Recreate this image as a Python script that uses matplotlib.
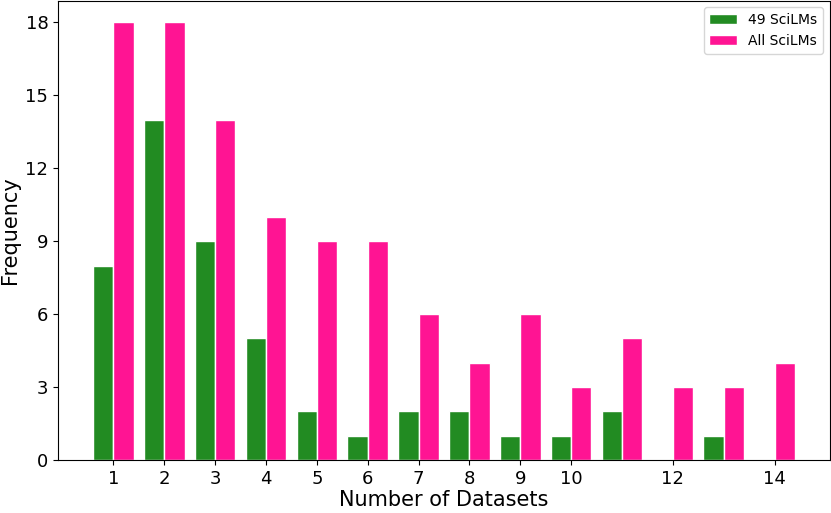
import matplotlib
matplotlib.use("Agg")
import matplotlib.pyplot as plt
import numpy as np

num_datasets = [1, 2, 3, 4, 5, 6, 7, 8, 9, 10, 11, 12, 13, 14]
sci49 = [8, 14, 9, 5, 2, 1, 2, 2, 1, 1, 2, 0, 1, 0]
sci_all = [18, 18, 14, 10, 9, 9, 6, 4, 6, 3, 5, 3, 3, 4]
xticks = [1, 2, 3, 4, 5, 6, 7, 8, 9, 10, 12, 14]
yticks = [0, 3, 6, 9, 12, 15, 18]

fig = plt.figure(figsize=(8.31, 5.13), dpi=100)
ax = fig.add_axes([58/831, 1 - 460/513, (830-58)/831, (460-0.5)/513])
x = np.array(num_datasets)
w = 0.4
ax.bar(x - w/2, sci49, width=w, color='forestgreen', edgecolor='white', label='49 SciLMs')
ax.bar(x + w/2, sci_all, width=w, color='deeppink', edgecolor='white', label='All SciLMs')
ax.set_xticks(xticks)
ax.set_yticks(yticks)
ax.tick_params(labelsize=13)
ax.set_xlabel('Number of Datasets', fontsize=15, labelpad=2)
ax.set_ylabel('Frequency', fontsize=15)
ax.legend(loc='upper right', fontsize=10)
fig.savefig('out.png', dpi=100)
